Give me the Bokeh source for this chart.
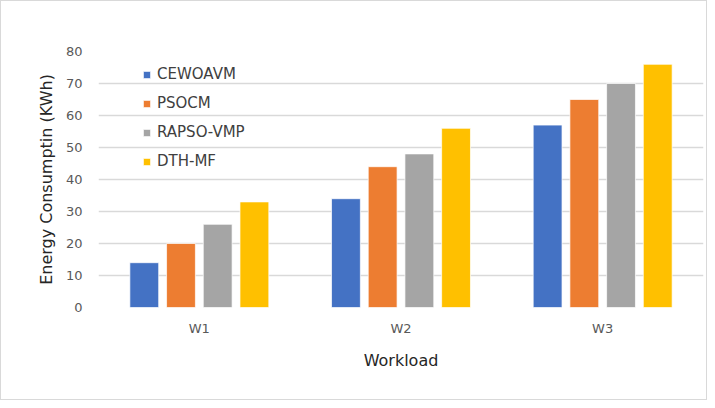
from bokeh.plotting import figure
from bokeh.models import ColumnDataSource, FactorRange, Legend, LegendItem
from bokeh.transform import dodge
from bokeh.embed import file_html
from bokeh.resources import INLINE

workloads = ["W1", "W2", "W3"]
cewoavm = [14, 34, 57]
psocm = [20, 44, 65]
rapso_vmp = [26, 48, 70]
dth_mf = [33, 56, 76]
series_names = ["CEWOAVM", "PSOCM", "RAPSO-VMP", "DTH-MF"]
colors = ["#4472C4", "#ED7D31", "#A5A5A5", "#FFC000"]
offsets = [-0.273, -0.091, 0.091, 0.273]

src = ColumnDataSource(dict(x=workloads, a=cewoavm, b=psocm, c=rapso_vmp, d=dth_mf))

FONT = "DejaVu Sans"
p = figure(x_range=FactorRange(*workloads, range_padding=0), y_range=(0, 80),
           width=707, height=400, output_backend="svg", toolbar_location=None,
           min_border_left=97, min_border_right=5, min_border_top=50, min_border_bottom=94,
           outline_line_color=None, styles={"border": "1px solid #D9D9D9", "box-sizing": "border-box"})

renderers = []
for key, off, col in zip(["a", "b", "c", "d"], offsets, colors):
    r = p.vbar(x=dodge("x", off, range=p.x_range), top=key, width=0.143, source=src,
               fill_color=col, line_color="white", line_alpha=0.7, line_width=1)
    renderers.append(r)

legend = Legend(items=[LegendItem(label=n, renderers=[r]) for n, r in zip(series_names, renderers)],
                location=(44, 136), orientation="vertical",
                glyph_width=9, glyph_height=9, label_height=20, spacing=9,
                label_standoff=6, padding=0, margin=0,
                border_line_color=None, background_fill_alpha=0,
                label_text_font=FONT, label_text_font_size="15px", label_text_color="#404040")
p.add_layout(legend, "center")

p.xgrid.grid_line_color = None
p.ygrid.grid_line_color = "#D9D9D9"
p.ygrid.grid_line_width = 1.5
p.yaxis.ticker = [0, 10, 20, 30, 40, 50, 60, 70, 80]

for ax in (p.xaxis, p.yaxis):
    ax.axis_line_color = None
    ax.major_tick_line_color = None
    ax.minor_tick_line_color = None
    ax.major_tick_out = 0
    ax.major_tick_in = 0
    ax.major_label_text_font = FONT
    ax.major_label_text_font_size = "13px"
    ax.major_label_text_color = "#595959"
    ax.axis_label_text_font = FONT
    ax.axis_label_text_font_size = "16px"
    ax.axis_label_text_font_style = "normal"
    ax.axis_label_text_color = "#262626"

p.xaxis.axis_label = "Workload"
p.yaxis.axis_label = "Energy Consumptin (KWh)"
p.xaxis.major_label_standoff = 13
p.xaxis.axis_label_standoff = 12
p.yaxis.major_label_standoff = 16
p.yaxis.axis_label_standoff = 7

open("out.html", "w").write(file_html(p, INLINE))
